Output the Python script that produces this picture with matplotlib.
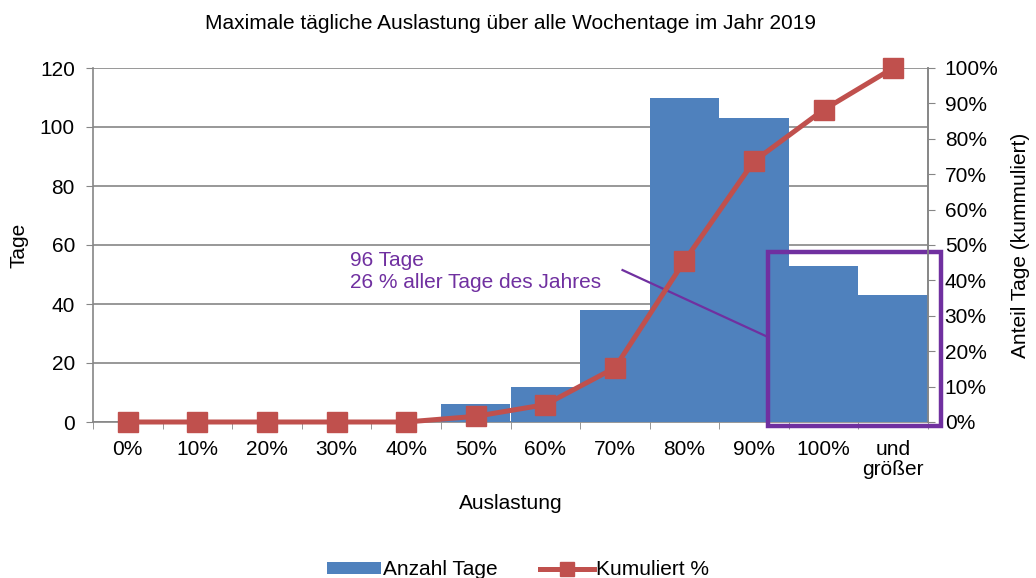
import matplotlib
matplotlib.use("Agg")
import matplotlib.pyplot as plt
from matplotlib.patches import Rectangle, Patch
from matplotlib.lines import Line2D
import numpy as np

plt.rcParams['font.family'] = ['Liberation Sans', 'DejaVu Sans']

categories = ["0%", "10%", "20%", "30%", "40%", "50%", "60%", "70%", "80%", "90%", "100%", "und\ngrößer"]
anzahl_tage = [0, 0, 0, 0, 0, 6, 12, 38, 110, 103, 53, 43]
kumuliert = [0, 0, 0, 0, 0, 1.6, 4.9, 15.3, 45.5, 73.7, 88.2, 100.0]

blue = "#4F81BD"
red = "#C0504D"
purple = "#7030A0"
grid_c = "#868686"
FS = 15

fig = plt.figure(figsize=(10.36, 5.78), dpi=100)
ax = fig.add_axes([93/1036, 1-422/578, (928-93)/1036, (422-68)/578])
x = np.arange(len(categories))
ax.bar(x, anzahl_tage, width=1.0, color=blue, zorder=3)
ax.set_xlim(-0.5, len(categories)-0.5)
ax.set_ylim(0, 120)
ax.set_yticks(range(0, 121, 20))
ax.yaxis.grid(True, color=grid_c, linewidth=1.2, zorder=0)
ax.set_axisbelow(True)
ax.set_xticks(x)
ax.set_xticklabels(categories, fontsize=FS, linespacing=1.05)
ax.set_xticks(np.arange(-0.5, len(categories)), minor=True)
ax.tick_params(axis='x', which='major', length=0, pad=13)
ax.tick_params(axis='x', which='minor', length=5, color=grid_c, direction='out')
ax.tick_params(axis='y', labelsize=FS, length=5, color=grid_c, direction='out', pad=8)
ax.spines['top'].set_visible(False)
for s in ['left', 'bottom', 'right']:
    ax.spines[s].set_color(grid_c)
    ax.spines[s].set_linewidth(1.2)
ax.set_ylabel("Tage", fontsize=FS, labelpad=8)
ax.set_xlabel("Auslastung", fontsize=FS, labelpad=11)
ax.set_title("Maximale tägliche Auslastung über alle Wochentage im Jahr 2019", fontsize=FS, pad=28)

ax2 = ax.twinx()
ax2.plot(x, kumuliert, color=red, linewidth=3.6, marker='s', markersize=14, zorder=5, clip_on=False)
ax2.set_ylim(0, 100)
ax2.set_yticks(range(0, 101, 10))
ax2.set_yticklabels([f"{v}%" for v in range(0, 101, 10)], fontsize=FS)
ax2.tick_params(axis='y', length=5, color=grid_c, direction='out', pad=7)
ax2.spines['top'].set_visible(False)
ax2.spines['right'].set_color(grid_c)
ax2.spines['right'].set_linewidth(1.2)
ax2.spines['left'].set_visible(False)
ax2.spines['bottom'].set_visible(False)
ax2.set_ylabel("Anteil Tage (kummuliert)", fontsize=FS, labelpad=9)

# annotation box
rect = Rectangle((9.2, -1.4), 2.49, 59.0, fill=False, edgecolor=purple, linewidth=3.2,
                 clip_on=False, zorder=10, transform=ax.transData)
ax.add_patch(rect)
ax.plot([7.11, 9.2], [51.5, 28.8], color=purple, linewidth=1.6, zorder=10, clip_on=False)
ax.text(3.19, 58.0, "96 Tage\n26 % aller Tage des Jahres", color=purple, fontsize=FS,
        ha='left', va='top', zorder=10, linespacing=1.2)

handles = [Patch(facecolor=blue, edgecolor='none'),
           Line2D([0], [0], color=red, linewidth=3.6, marker='s', markersize=10)]
fig.legend(handles, ["Anzahl Tage", "Kumuliert %"], loc='lower center', ncol=2, frameon=False,
           fontsize=FS, bbox_to_anchor=(0.5, -0.035), handlelength=2.6, columnspacing=2.0,
           handletextpad=0.1, handleheight=0.5)

fig.savefig("out.png", dpi=100)
